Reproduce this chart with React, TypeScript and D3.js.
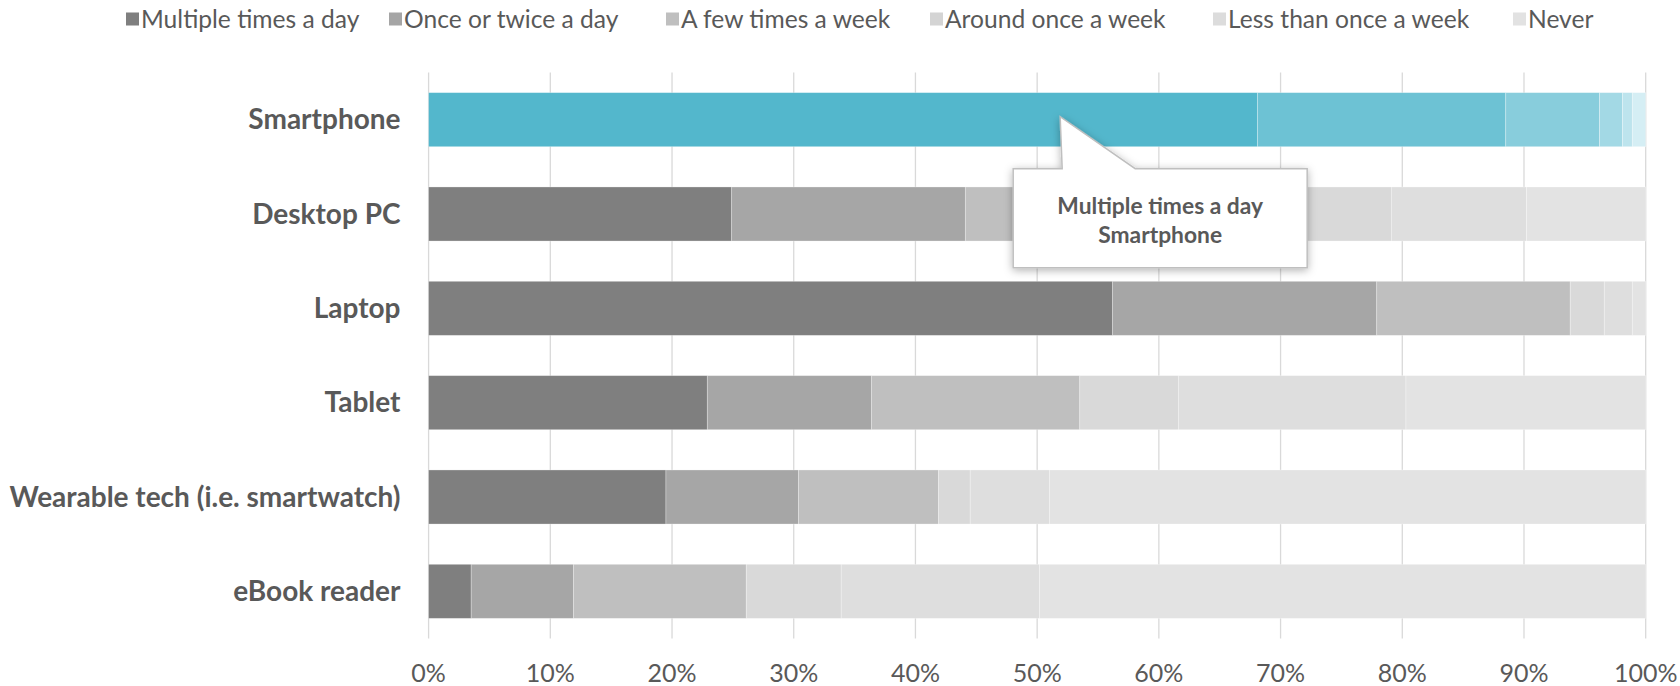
import React from "react";
import * as d3 from "d3";

const categories = [
  "Smartphone",
  "Desktop PC",
  "Laptop",
  "Tablet",
  "Wearable tech (i.e. smartwatch)",
  "eBook reader",
];
const seriesNames = [
  "Multiple times a day",
  "Once or twice a day",
  "A few times a week",
  "Around once a week",
  "Less than once a week",
  "Never",
];
const multipleTimesADay = [68.1, 24.9, 56.2, 22.9, 19.5, 3.5];
const onceOrTwiceADay = [20.4, 19.2, 21.7, 13.5, 10.9, 8.4];
const aFewTimesAWeek = [7.7, 15.9, 15.9, 17.1, 11.5, 14.2];
const aroundOnceAWeek = [1.9, 19.1, 2.8, 8.1, 2.6, 7.8];
const lessThanOnceAWeek = [0.8, 11.1, 2.3, 18.7, 6.5, 16.3];
const never = [1.1, 9.8, 1.1, 19.7, 49.0, 49.8];
const tickValues = [0, 0.1, 0.2, 0.3, 0.4, 0.5, 0.6, 0.7, 0.8, 0.9, 1];

const highlighted = "Smartphone";
const calloutSeries = "Multiple times a day";

const grayColors = ["#7f7f7f", "#a6a6a6", "#bfbfbf", "#d9d9d9", "#dedede", "#e3e3e3"];
const tealColors = ["#53b7cc", "#6dc2d4", "#88cddc", "#a3d9e5", "#bde4ed", "#d5eef4"];
const legendColors = ["#7f7f7f", "#a5a5a5", "#bfbfbf", "#d4d4d4", "#dcdcdc", "#e2e2e2"];
const legendX = [126, 389, 666, 930, 1213, 1513];

const W = 1680;
const H = 686;
const M = { left: 428.6, right: 1645.7, top: 72.5, bottom: 638.5 };
const FONT = "Lato, 'Noto Sans', sans-serif";
const TEXT = "#595959";

export default function App() {
  const rows = categories.map((c, i) => ({
    category: c,
    [seriesNames[0]]: multipleTimesADay[i],
    [seriesNames[1]]: onceOrTwiceADay[i],
    [seriesNames[2]]: aFewTimesAWeek[i],
    [seriesNames[3]]: aroundOnceAWeek[i],
    [seriesNames[4]]: lessThanOnceAWeek[i],
    [seriesNames[5]]: never[i],
  }));
  const stacked = d3
    .stack<any>()
    .keys(seriesNames)
    .offset(d3.stackOffsetExpand)(rows);

  const x = d3.scaleLinear().domain([0, 1]).range([M.left, M.right]);
  const y = d3
    .scaleBand<string>()
    .domain(categories)
    .range([M.top, M.bottom])
    .paddingInner(0.427)
    .paddingOuter(0.2135);
  const fmt = d3.format(".0%");

  const hiIndex = categories.indexOf(highlighted);
  const sIndex = seriesNames.indexOf(calloutSeries);
  const seg = stacked[sIndex][hiIndex];
  const tipX = x(seg[0] + (seg[1] - seg[0]) * 0.762);
  const tipY = (y(highlighted) as number) + y.bandwidth() / 2 - 3;
  const boxL = tipX - 47;
  const boxR = tipX + 247;
  const boxT = tipY + 52;
  const boxB = tipY + 151;
  const calloutPath = `M${boxL},${boxT} L${tipX + 2},${boxT} L${tipX},${tipY} L${tipX + 75},${boxT} L${boxR},${boxT} L${boxR},${boxB} L${boxL},${boxB} Z`;
  const cx = (boxL + boxR) / 2;

  return (
    <svg
      width={W}
      height={H}
      style={{ position: "absolute", left: 0, top: 0, background: "#fff" }}
      fontFamily={FONT}
    >
      <defs>
        <filter id="shadow" x="-20%" y="-30%" width="140%" height="160%">
          <feDropShadow dx="0" dy="2" stdDeviation="4" floodColor="#000" floodOpacity="0.3" />
        </filter>
      </defs>
      <g>
        {seriesNames.map((s, i) => (
          <g key={s} transform={`translate(${legendX[i]},19)`}>
            <rect x={0} y={-6.5} width={13} height={13} fill={legendColors[i]} />
            <text x={15} y={0} dy="0.35em" fontSize={24.6} fill={TEXT}>
              {s}
            </text>
          </g>
        ))}
      </g>
      <g>
        {tickValues.map((t) => (
          <line
            key={t}
            x1={x(t)}
            x2={x(t)}
            y1={M.top}
            y2={M.bottom}
            stroke="#d9d9d9"
            strokeWidth={1.3}
          />
        ))}
      </g>
      <g>
        {stacked.map((layer, si) => (
          <g key={layer.key}>
            {layer.map((d, ci) => {
              const cat = categories[ci];
              const col = cat === highlighted ? tealColors[si] : grayColors[si];
              return (
                <rect
                  key={cat}
                  x={x(d[0])}
                  y={y(cat)}
                  width={Math.max(0, x(d[1]) - x(d[0]))}
                  height={y.bandwidth()}
                  fill={col}
                  stroke="rgba(255,255,255,0.35)"
                  strokeWidth={0.8}
                />
              );
            })}
          </g>
        ))}
      </g>
      <g>
        {categories.map((c) => (
          <text
            key={c}
            x={400.5}
            y={(y(c) as number) + y.bandwidth() / 2}
            dy="0.35em"
            textAnchor="end"
            fontSize={28}
            fontWeight="bold"
            fill={TEXT}
          >
            {c}
          </text>
        ))}
      </g>
      <g>
        {tickValues.map((t) => (
          <text
            key={t}
            x={x(t)}
            y={682}
            textAnchor="middle"
            fontSize={25}
            fill={TEXT}
          >
            {fmt(t)}
          </text>
        ))}
      </g>
      <g>
        <path d={calloutPath} fill="#fff" stroke="#bfbfbf" strokeWidth={1.5} filter="url(#shadow)" />
        <text x={cx} y={tipY + 89} dy="0.35em" textAnchor="middle" fontSize={22.8} fontWeight="bold" fill={TEXT}>
          {calloutSeries}
        </text>
        <text x={cx} y={tipY + 118} dy="0.35em" textAnchor="middle" fontSize={22.8} fontWeight="bold" fill={TEXT}>
          {highlighted}
        </text>
      </g>
    </svg>
  );
}
